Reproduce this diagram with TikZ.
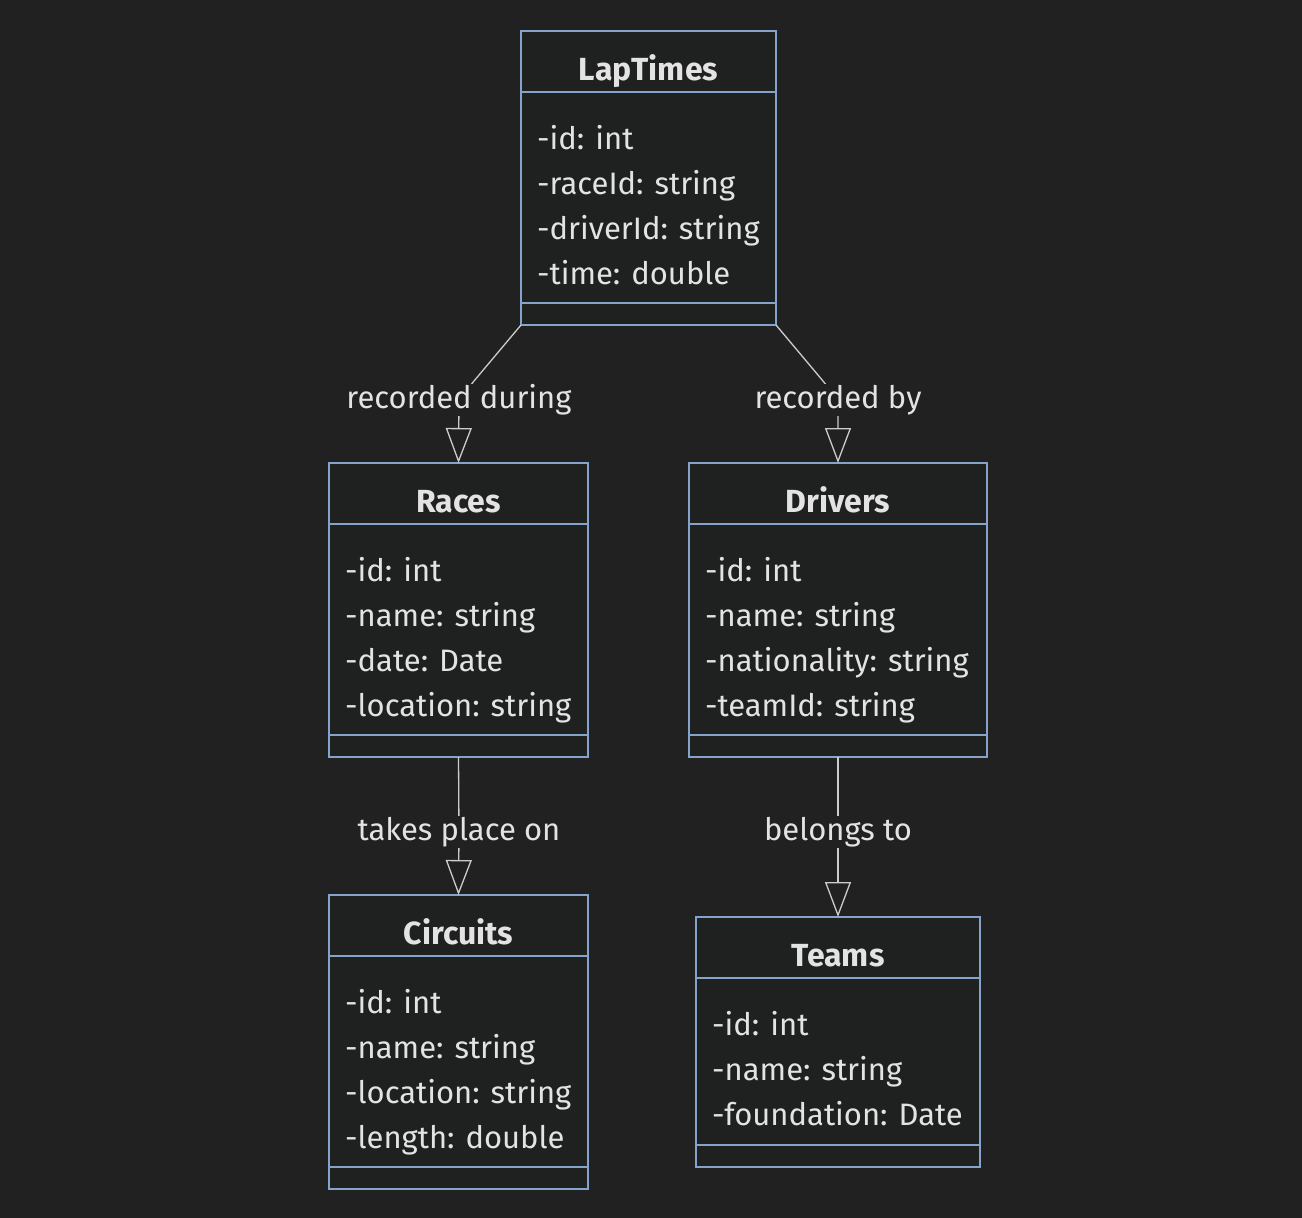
\documentclass[tikz,border=0pt]{standalone}
\usepackage{fontspec}
\setmainfont{Fira Sans}
\usetikzlibrary{arrows.meta,calc}
\definecolor{bg}{HTML}{212121}
\definecolor{boxfill}{HTML}{1F2020}
\definecolor{boxline}{HTML}{86A3CC}
\definecolor{txt}{HTML}{E3E3E3}
\definecolor{edgecol}{HTML}{CCCCCC}
\pgfdeclarelayer{fg}
\pgfsetlayers{main,fg}
\tikzset{
  cbox/.style={draw=boxline, fill=boxfill, line width=1.6pt, inner sep=0pt, outer sep=0pt},
  divider/.style={draw=boxline, line width=1.6pt},
  ctitle/.style={text=txt, anchor=base, inner sep=0pt, font=\fontsize{32}{36}\selectfont\bfseries},
  cattr/.style={text=txt, anchor=base west, inner sep=0pt, font=\fontsize{31}{35}\selectfont},
  elabel/.style={text=txt, fill=bg, inner sep=1pt, font=\fontsize{31}{35}\selectfont},
  edge/.style={draw=edgecol, line width=1.3pt, -{Triangle[open, length=35pt, width=26pt, line width=1.3pt]}},
}
% #1 name, #2 left, #3 top, #4 right, #5 bottom, #6 title, #7 attributes
\newcommand{\classbox}[7]{%
  \node[cbox, minimum width={(#4-#2)*1pt}, minimum height={(#5-#3)*1pt}] (#1) at ({(#2+#4)/2},{(#3+#5)/2}) {};
  \draw[divider] (#2,#3+61) -- (#4,#3+61);
  \draw[divider] (#2,#5-22) -- (#4,#5-22);
  \node[ctitle] (#1-title) at ({(#2+#4)/2},#3+49) {#6};
  \foreach \a [count=\i from 0] in {#7} {
    \node[cattr] (#1-a\i) at (#2+16,#3+118+\i*45) {\a};
  }
}
\begin{document}
\begin{tikzpicture}[x=1pt,y=-1pt]
\path[use as bounding box, fill=bg] (0,0) rectangle (1302,1218);

\classbox{lt}{521}{31}{776}{325}{LapTimes}{-id: int,-raceId: string,-driverId: string,-time: double}
\classbox{races}{329}{463}{588}{757}{Races}{-id: int,-name: string,-date: Date,-location: string}
\classbox{drivers}{689}{463}{987}{757}{Drivers}{-id: int,-name: string,-nationality: string,-teamId: string}
\classbox{circuits}{329}{895}{588}{1189}{Circuits}{-id: int,-name: string,-location: string,-length: double}
\classbox{teams}{696}{917}{980}{1167}{Teams}{-id: int,-name: string,-foundation: Date}

\begin{pgfonlayer}{fg}
\node[elabel] (l1) at (459,400) {recorded during};
\node[elabel] (l2) at (838,400) {recorded by};
\node[elabel] (l3) at (459,832) {takes place on};
\node[elabel] (l4) at (838,832) {belongs to};
\end{pgfonlayer}

\coordinate (c1) at (474,381);
\coordinate (c2) at (823,381);

\draw[edge] (lt.south west) -- (c1) -- (l1.center) -- (races.north);
\draw[edge] (lt.south east) -- (c2) -- (l2.center) -- (drivers.north);
\draw[edge] (races.south) -- (l3.center) -- (circuits.north);
\draw[edge] (drivers.south) -- (l4.center) -- (teams.north);
\end{tikzpicture}
\end{document}
